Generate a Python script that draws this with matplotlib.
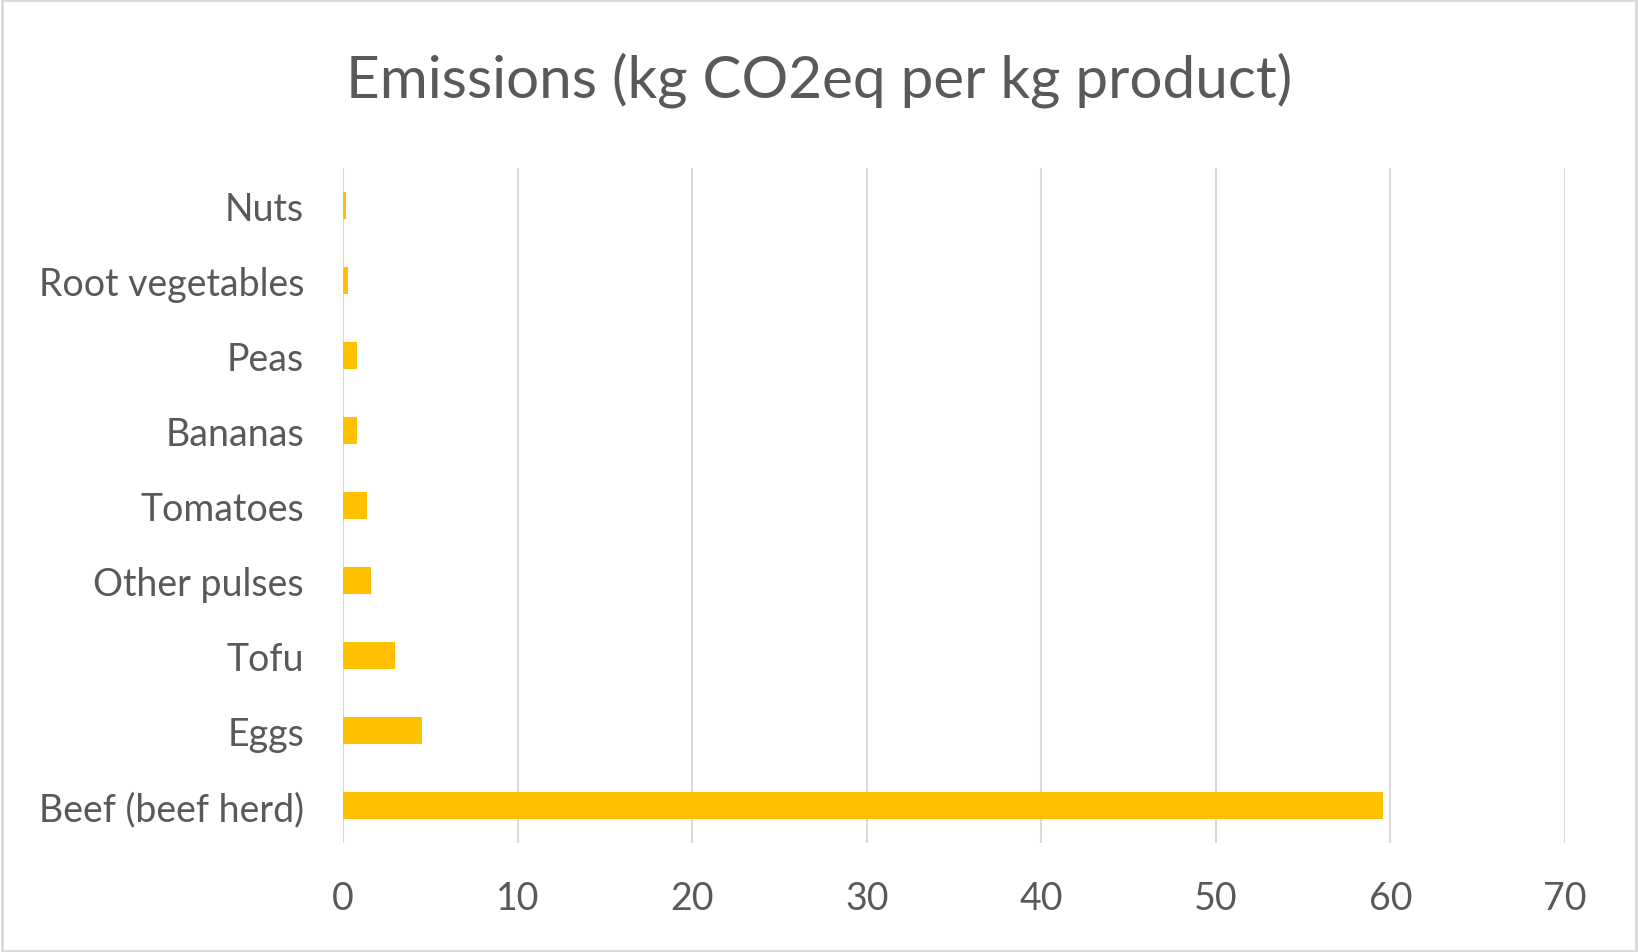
import matplotlib
matplotlib.use("Agg")
import matplotlib.pyplot as plt
from matplotlib.patches import Rectangle

categories = ["Beef (beef herd)", "Eggs", "Tofu", "Other pulses", "Tomatoes",
              "Bananas", "Peas", "Root vegetables", "Nuts"]
emissions = [59.6, 4.5, 3.0, 1.6, 1.4, 0.8, 0.8, 0.3, 0.2]
xticks = [0, 10, 20, 30, 40, 50, 60, 70]

grey = "#595959"
grid = "#d9d9d9"
bar_color = "#ffc000"

plt.rcParams["font.family"] = ["Lato", "DejaVu Sans"]

fig = plt.figure(figsize=(16.38, 9.53), dpi=100)
ax = fig.add_axes([343 / 1638, 1 - 844 / 953, (1565 - 343) / 1638, (844 - 169) / 953])

ax.barh(range(len(categories)), emissions, height=0.36, color=bar_color, zorder=3)

ax.set_xlim(0, 70)
ax.set_ylim(-0.5, len(categories) - 0.5)
ax.set_xticks(xticks)
ax.set_yticks(range(len(categories)))
ax.set_yticklabels(categories)
ax.tick_params(axis="both", length=0, labelsize=27, colors=grey)
ax.tick_params(axis="y", pad=28)
ax.tick_params(axis="x", pad=27)
ax.grid(axis="x", color=grid, linewidth=1.5, zorder=0)
for s in ax.spines.values():
    s.set_visible(False)

fig.text(0.5, 1 - 80 / 953, "Emissions (kg CO2eq per kg product)", ha="center", va="center",
         fontsize=42, color=grey)

fig.patches.append(Rectangle((0.001, 0.001), 0.998, 0.998, transform=fig.transFigure,
                             fill=False, edgecolor=grid, linewidth=2))

fig.savefig("out.png", dpi=100)
